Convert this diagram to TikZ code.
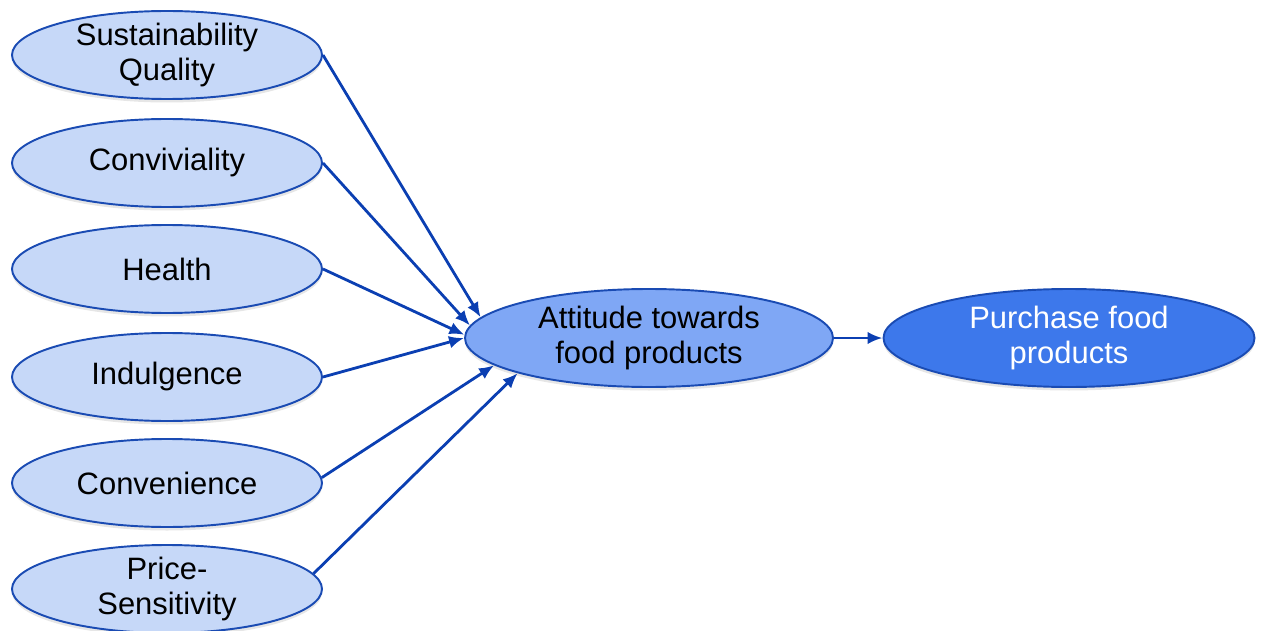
\documentclass[tikz,border=0pt]{standalone}
\usepackage{fontspec}
\setmainfont{Liberation Sans}
\usepackage{tikz}
\usetikzlibrary{arrows.meta,shapes.geometric,shadows}
\definecolor{fdLine}{HTML}{1A4BB3}
\definecolor{fdArrow}{HTML}{0B3FB2}
\definecolor{fdLight}{HTML}{C6D8F8}
\definecolor{fdMid}{HTML}{7FA7F5}
\definecolor{fdDark}{HTML}{3D78EB}
\tikzset{
  fd diagram/.style={font=\fontsize{17.6pt}{20pt}\selectfont},
  fd oval/.style={ellipse, draw=fdLine, line width=1.1pt, align=center,
    inner xsep=0pt, inner ysep=-4mm, minimum height=1.76cm,
    drop shadow={opacity=0.2, shadow xshift=0pt, shadow yshift=-0.7mm}},
  fd factor/.style={fd oval, fill=fdLight, minimum width=6.2cm},
  fd attitude/.style={fd oval, fill=fdMid, minimum width=7.36cm, minimum height=1.96cm},
  fd outcome/.style={fd oval, fill=fdDark, text=white, minimum width=7.42cm, minimum height=1.96cm},
  fd arrow/.style={-{Latex[length=3mm,width=2.5mm]}, draw=fdArrow, line width=1.6pt}
}
\begin{document}
\begin{tikzpicture}[fd diagram]
\useasboundingbox (0,0) rectangle (25.32,-12.62);
\node[fd factor] (sust) at (3.34,-1.1) {Sustainability\\Quality};
\node[fd factor] (conv) at (3.34,-3.26) {Conviviality};
\node[fd factor] (health) at (3.34,-5.38) {Health};
\node[fd factor] (indulg) at (3.34,-7.54) {Indulgence};
\node[fd factor] (conven) at (3.34,-9.66) {Convenience};
\node[fd factor] (price) at (3.34,-11.78) {Price-\\Sensitivity};
\node[fd attitude] (att) at (12.98,-6.76) {Attitude towards\\food products};
\node[fd outcome] (buy) at (21.38,-6.76) {Purchase food\\products};
\draw[fd arrow] (sust.east) -- (att.173);
\draw[fd arrow] (conv.east) -- (att.176);
\draw[fd arrow] (health.east) -- (att.179);
\draw[fd arrow] (indulg.east) -- (att.180);
\draw[fd arrow] (conven.2) -- (att.190);
\draw[fd arrow] (price.6) -- (att.195);
\draw[fd arrow] (att.east) -- (buy.west);
\end{tikzpicture}
\end{document}
